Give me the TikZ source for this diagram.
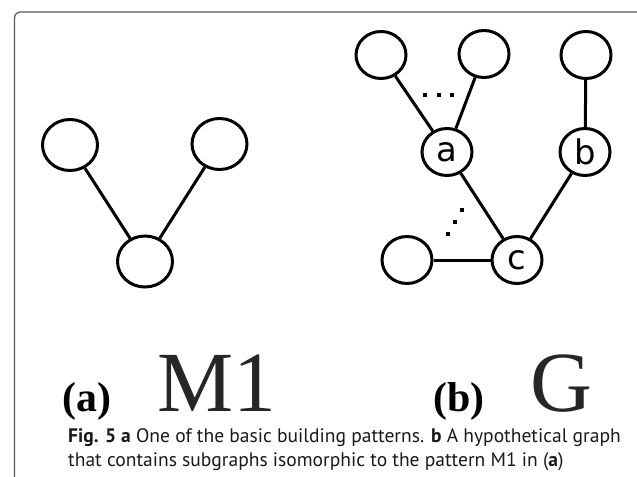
\documentclass[tikz,border=0pt]{standalone}
\usepackage{fontspec}
\setmainfont{Liberation Serif}
\newfontfamily\vtxfont{DejaVu Sans}
\newfontfamily\capfont{PT Sans}
\usetikzlibrary{shapes.geometric}

\tikzset{
  vtx/.style={draw, ellipse, line width=3bp, inner sep=0pt,
              minimum width=55bp, minimum height=51bp},
  gvtx/.style={vtx, minimum width=50bp, minimum height=47bp,
               font=\vtxfont\fontsize{34}{34}\selectfont},
  edge/.style={line width=3bp},
  dotmark/.style={fill=black},
  panellabel/.style={inner sep=0pt, anchor=base, font=\fontsize{42}{42}\selectfont\bfseries},
  bigname/.style={inner sep=0pt, anchor=base west, text=black!85, font=\fontsize{86}{86}\selectfont},
  capline/.style={inner sep=0pt, anchor=base west, text=black!90, font=\capfont\fontsize{19.6}{24}\selectfont},
  frame/.style={draw=black!65, line width=1.2bp, rounded corners=6bp}
}

\begin{document}
\begin{tikzpicture}[x=1bp, y=-1bp]
\useasboundingbox (0,0) rectangle (637,477);
\clip (0,0) rectangle (637,477);

% outer box of the figure
\draw[frame] (14.5,490) -- (14.5,12) -- (643,12) -- (643,490);

% pattern M1
\node[vtx] (m1l) at (70,145) {};
\node[vtx] (m1r) at (219.5,144) {};
\node[vtx] (m1b) at (145,261.5) {};
\draw[edge] (m1l) -- (m1b);
\draw[edge] (m1r) -- (m1b);

% graph G
\node[gvtx] (t1) at (381,55) {};
\node[gvtx] (t2) at (484,54) {};
\node[gvtx] (t3) at (586,55) {};
\node[gvtx] (va) at (447,152) {a};
\node[gvtx] (vb) at (585,152) {b};
\node[gvtx] (vc) at (517,260) {c};
\node[gvtx] (vd) at (407,260) {};
\draw[edge] (t1) -- (va);
\draw[edge] (t2) -- (va);
\draw[edge] (t3) -- (vb);
\draw[edge] (va) -- (vc);
\draw[edge] (vb) -- (vc);
\draw[edge] (vd) -- (vc);

% ellipsis dots
\foreach \px/\py in {425/95, 438.5/95, 452/95, 448/234, 455/222, 462/210}
  \fill[dotmark] (\px-2,\py-2) rectangle (\px+2,\py+2);

% panel labels
\node[panellabel] (la) at (87,411) {(a)};
\node[bigname] (nm) at (157,411) {M1};
\node[panellabel] (lb) at (459,411) {(b)};
\node[bigname] (ng) at (530,411) {G};

% caption
\node[capline] (c1) at (68,442) {\textbf{Fig. 5 a} One of the basic building patterns. \textbf{b} A hypothetical graph};
\node[capline] (c2) at (68,466) {that contains subgraphs isomorphic to the pattern M1 in (\textbf{a})};
\end{tikzpicture}
\end{document}
